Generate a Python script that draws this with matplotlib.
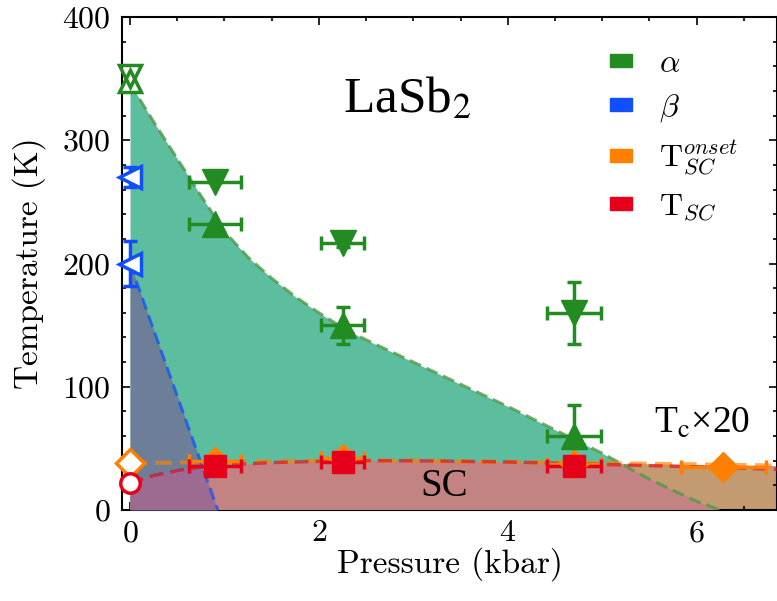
import numpy as np
import matplotlib
matplotlib.use('Agg')
import matplotlib.pyplot as plt
from matplotlib.patches import Patch
from matplotlib.ticker import MultipleLocator

plt.rcParams.update({
    'font.family': 'serif',
    'font.serif': ['cmr10'],
    'mathtext.fontset': 'cm',
    'axes.formatter.use_mathtext': True,
    'font.size': 23,
    'xtick.direction': 'in', 'ytick.direction': 'in',
    'xtick.top': True, 'ytick.right': True,
    'xtick.major.size': 6, 'ytick.major.size': 6,
    'xtick.minor.size': 3, 'ytick.minor.size': 3,
    'xtick.major.width': 1.2, 'ytick.major.width': 1.2,
    'xtick.minor.width': 1.2, 'ytick.minor.width': 1.2,
    'axes.linewidth': 1.5,
})

# boundary lines
p_alpha_line = [0, 0.25, 0.5, 0.75, 1.0, 1.25, 1.5, 1.75, 2.0, 2.25, 2.5, 3.0, 3.5, 4.0, 4.5, 5.0, 5.5, 6.0, 6.25]
t_alpha_line = [346, 315, 285, 255, 226, 205, 188, 173, 160, 148, 138, 120, 102, 84, 65, 46, 25, 7, 0]
p_beta_line = [0, 0.93]
t_beta_line = [200, 0]
p_onset_line = [0, 1, 2, 3, 4, 5, 6, 6.85]
t_onset_line = [38, 39, 40, 40, 39, 38, 37, 36]
p_sc_line = [0, 0.25, 0.5, 0.75, 1.0, 1.5, 2.0, 2.5, 3.0, 3.5, 4.0, 4.5, 5.0, 5.5, 6.0, 6.85]
t_sc_line = [22, 28, 32, 35, 36.5, 38.5, 39.5, 40, 40, 39.5, 39, 38, 37, 36, 35, 33]

# measured points
p_pts = [0.9, 2.25, 4.7]
p_err = [0.28, 0.23, 0.29]
t_alpha_up = [232, 150, 60]
t_alpha_up_err = [0, 15, 25]
t_alpha_dn = [266, 217, 160]
t_alpha_dn_err = [0, 4, 25]
t_onset = [40, 42, 37]
t_sc = [36, 39, 36]
p_onset_hi, t_onset_hi, p_onset_hi_err = 6.28, 35, 0.45

# ambient-pressure open markers
t0_alpha_up, t0_alpha_dn = 348, 352
t0_beta = [270, 200]
t0_beta_err = [8, 18]
t0_onset, t0_sc = 38, 22

c_alpha = '#228b22'
c_beta = '#0f4fff'
c_onset = '#ff7f00'
c_sc = '#e6001a'

fig = plt.figure(figsize=(7.77, 6.01), dpi=100)
ax = fig.add_axes([122/777, 91/601, 655/777, 493/601])

f_on = ax.fill_between(p_onset_line, 0, t_onset_line, color='#c49b70', lw=0, zorder=1)
f_al = ax.fill_between(p_alpha_line, 0, t_alpha_line, color='#5dbd9f', lw=0, zorder=2)
f_be = ax.fill_between(p_beta_line, 0, t_beta_line, color='#6d7e98', lw=0, zorder=3)
f_sc1 = ax.fill_between(p_sc_line, 0, t_sc_line, color='#c48383', lw=0, zorder=4)
f_sc1.set_clip_path(f_al.get_paths()[0], ax.transData)
f_sc2 = ax.fill_between(p_sc_line, 0, t_sc_line, color='#9d6a92', lw=0, zorder=5)
f_sc2.set_clip_path(f_be.get_paths()[0], ax.transData)

ls = (0, (4, 2))
ax.plot(p_alpha_line, t_alpha_line, ls=ls, lw=2.2, color='#4f9a45', alpha=0.8, zorder=6)
ax.plot(p_beta_line, t_beta_line, ls=ls, lw=2.2, color=c_beta, alpha=0.7, zorder=6)
ax.plot(p_onset_line, t_onset_line, ls=ls, lw=3, color=c_onset, alpha=0.65, zorder=6)
ax.plot(p_sc_line, t_sc_line, ls=ls, lw=2.5, color=c_sc, alpha=0.6, zorder=6)

eb = dict(ls='none', elinewidth=2.5, capsize=5, capthick=2.5, zorder=8)
ax.errorbar(p_pts, t_alpha_up, xerr=p_err, yerr=t_alpha_up_err, fmt='^', ms=19, color=c_alpha, **eb)
ax.errorbar(p_pts, t_alpha_dn, xerr=p_err, yerr=t_alpha_dn_err, fmt='v', ms=19, color=c_alpha, **eb)
ax.errorbar(p_pts, t_onset, xerr=p_err, fmt='D', ms=14, color=c_onset, **eb)
ax.errorbar([p_onset_hi], [t_onset_hi], xerr=[p_onset_hi_err], fmt='D', ms=15, color=c_onset, **eb)
ax.errorbar(p_pts, t_sc, xerr=p_err, fmt='s', ms=16, color=c_sc, **eb)

op = dict(mfc='white', mew=2.5, ls='none', zorder=9, clip_on=False)
ax.plot([0], [t0_alpha_up], marker='^', ms=16, mec=c_alpha, **op)
ax.plot([0], [t0_alpha_dn], marker='v', ms=16, mec=c_alpha, mfc='none', ls='none', mew=2.5, zorder=9, clip_on=False)
ax.errorbar([0, 0], t0_beta, yerr=t0_beta_err, fmt='none', ecolor=c_beta, elinewidth=2.5, capsize=5, capthick=2.5, zorder=8)
ax.plot([0, 0], t0_beta, marker='<', ms=16, mec=c_beta, **op)
ax.plot([0], [t0_onset], marker='D', ms=14, mec=c_onset, **op)
ax.plot([0], [t0_sc], marker='o', ms=14, mec=c_sc, **op)

ax.text(2.93, 333, r'LaSb$_2$', family='Liberation Serif', math_fontfamily='stix',
        fontsize=37, ha='center', va='center')
ax.text(6.06, 70, r'T$_\mathrm{c}$×20', family='Liberation Serif', math_fontfamily='stix',
        fontsize=27, ha='center', va='center')
ax.text(3.33, 19, 'SC', family='Liberation Serif', fontsize=28, ha='center', va='center', zorder=7)

handles = [Patch(color=c_alpha), Patch(color=c_beta), Patch(color=c_onset), Patch(color=c_sc)]
labels = [r'$\alpha$', r'$\beta$', r'$\mathrm{T}_{SC}^{onset}$', r'$\mathrm{T}_{SC}$']
ax.legend(handles, labels, loc='upper right', bbox_to_anchor=(0.985, 0.99), frameon=False,
          handlelength=0.7, handleheight=0.25, handletextpad=0.85, labelspacing=0.45, fontsize=23)

ax.set_xlim(-0.085, 6.85)
ax.set_ylim(0, 400)
ax.xaxis.set_major_locator(MultipleLocator(2))
ax.xaxis.set_minor_locator(MultipleLocator(0.5))
ax.yaxis.set_major_locator(MultipleLocator(100))
ax.yaxis.set_minor_locator(MultipleLocator(20))
ax.tick_params(axis='x', which='major', pad=7)
ax.tick_params(axis='y', which='major', pad=8)
ax.set_xlabel('Pressure (kbar)', fontsize=24, labelpad=0)
ax.set_ylabel('Temperature (K)', fontsize=24, labelpad=12)

fig.savefig('out.png', dpi=100)
